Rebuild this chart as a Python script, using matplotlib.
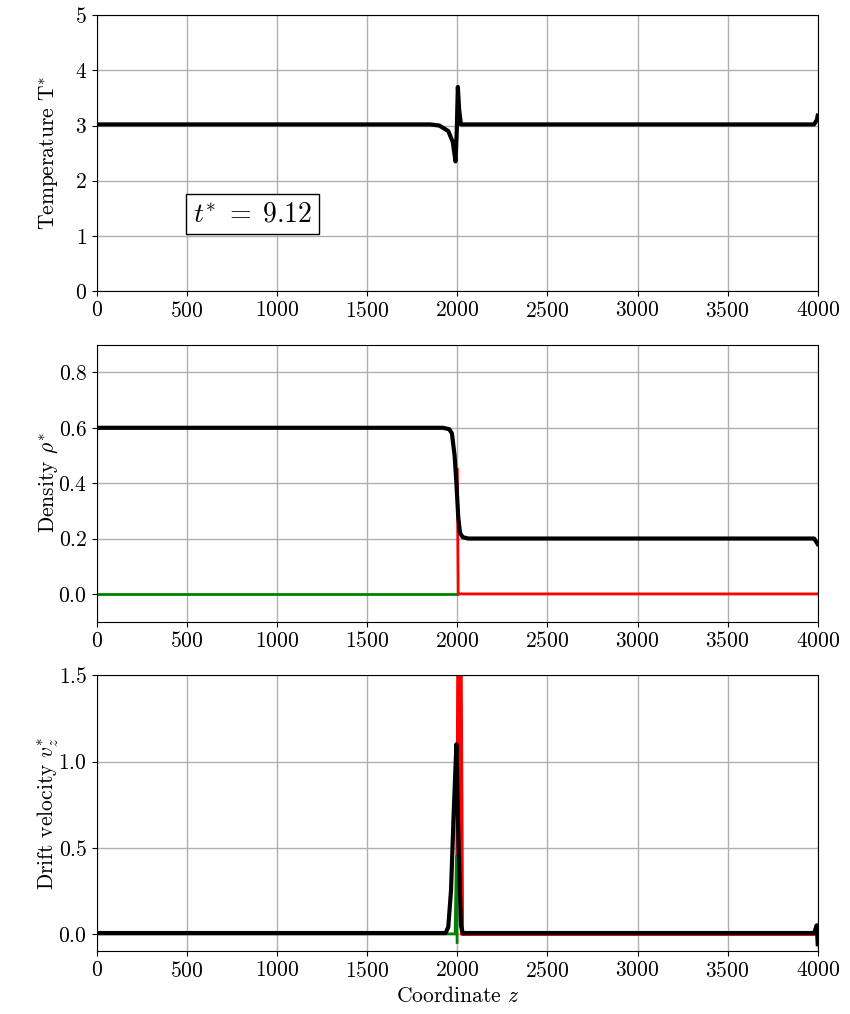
import numpy as np
import matplotlib
matplotlib.use('Agg')
import matplotlib.pyplot as plt

plt.rcParams['font.family'] = 'serif'
plt.rcParams['font.serif'] = ['cmr10', 'DejaVu Serif']
plt.rcParams['mathtext.fontset'] = 'cm'
plt.rcParams['axes.formatter.use_mathtext'] = True
plt.rcParams['font.size'] = 15.5

# temperature profile (black)
temp_z = [0, 1850, 1900, 1950, 1975, 1990, 1997, 2003, 2010, 2020, 2035, 3980, 3995, 4000]
temp_v = [3.02, 3.02, 3.0, 2.9, 2.7, 2.35, 2.9, 3.7, 3.3, 3.02, 3.02, 3.02, 3.1, 3.18]

# density profiles
rho_z = [0, 1920, 1955, 1970, 1985, 1995, 2005, 2015, 2030, 2060, 3980, 4000]
rho_v = [0.6, 0.6, 0.595, 0.58, 0.5, 0.4, 0.28, 0.22, 0.205, 0.2, 0.2, 0.18]
rho_left_z = [0, 1998]
rho_left_v = [0.0, 0.0]
rho_right_z = [2000, 2005, 4000]
rho_right_v = [0.45, 0.0, 0.0]

# drift velocity profiles
vel_z = [0, 1935, 1950, 1965, 1980, 1995, 2005, 2020, 2030, 3980, 3995, 4000]
vel_v = [0.005, 0.005, 0.04, 0.25, 0.7, 1.1, 0.6, 0.05, 0.005, 0.005, 0.05, -0.06]
vel_left_z = [0, 1988, 1995, 1999]
vel_left_v = [0.0, 0.0, 0.45, -0.05]
vel_right_z = [2000, 2008, 2016, 2026, 4000]
vel_right_v = [0.3, 2.0, 2.0, 0.0, 0.0]

fig = plt.figure(figsize=(8.5, 10.14), dpi=100)
left, width = 0.114, 0.848
ax1 = fig.add_axes([left, 0.713, width, 0.272])
ax2 = fig.add_axes([left, 0.387, width, 0.273])
ax3 = fig.add_axes([left, 0.062, width, 0.272])

lw = 3
ax1.plot(temp_z, temp_v, color='k', lw=lw)
ax1.set_ylim(0, 5)
ax1.set_ylabel('Temperature T$^{*}$')
ax1.text(0.216, 0.279, r'$t^{*}\;=\;9.12$', transform=ax1.transAxes, fontsize=20,
         ha='center', va='center',
         bbox=dict(boxstyle='square,pad=0.25', facecolor='white', edgecolor='black'))

ax2.plot(rho_left_z, rho_left_v, color='green', lw=2)
ax2.plot(rho_right_z, rho_right_v, color='red', lw=2)
ax2.plot(rho_z, rho_v, color='k', lw=lw)
ax2.set_ylim(-0.1, 0.9)
ax2.set_yticks([0.0, 0.2, 0.4, 0.6, 0.8])
ax2.set_ylabel(r'Density $\rho^{*}$')

ax3.plot(vel_right_z, vel_right_v, color='red', lw=3)
ax3.plot(vel_left_z, vel_left_v, color='green', lw=2)
ax3.plot(vel_z, vel_v, color='k', lw=lw)
ax3.set_ylim(-0.1, 1.5)
ax3.set_yticks([0.0, 0.5, 1.0, 1.5])
ax3.set_ylabel(r'Drift velocity $v_z^{*}$')
ax3.set_xlabel(r'Coordinate $z$')

for ax in (ax1, ax2, ax3):
    ax.set_xlim(0, 4000)
    ax.set_xticks(np.arange(0, 4001, 500))
    ax.grid(True, color='#b0b0b0', lw=1)
    ax.set_axisbelow(True)
    ax.yaxis.set_label_coords(-0.05, 0.5)

fig.savefig('out.png', dpi=100)
